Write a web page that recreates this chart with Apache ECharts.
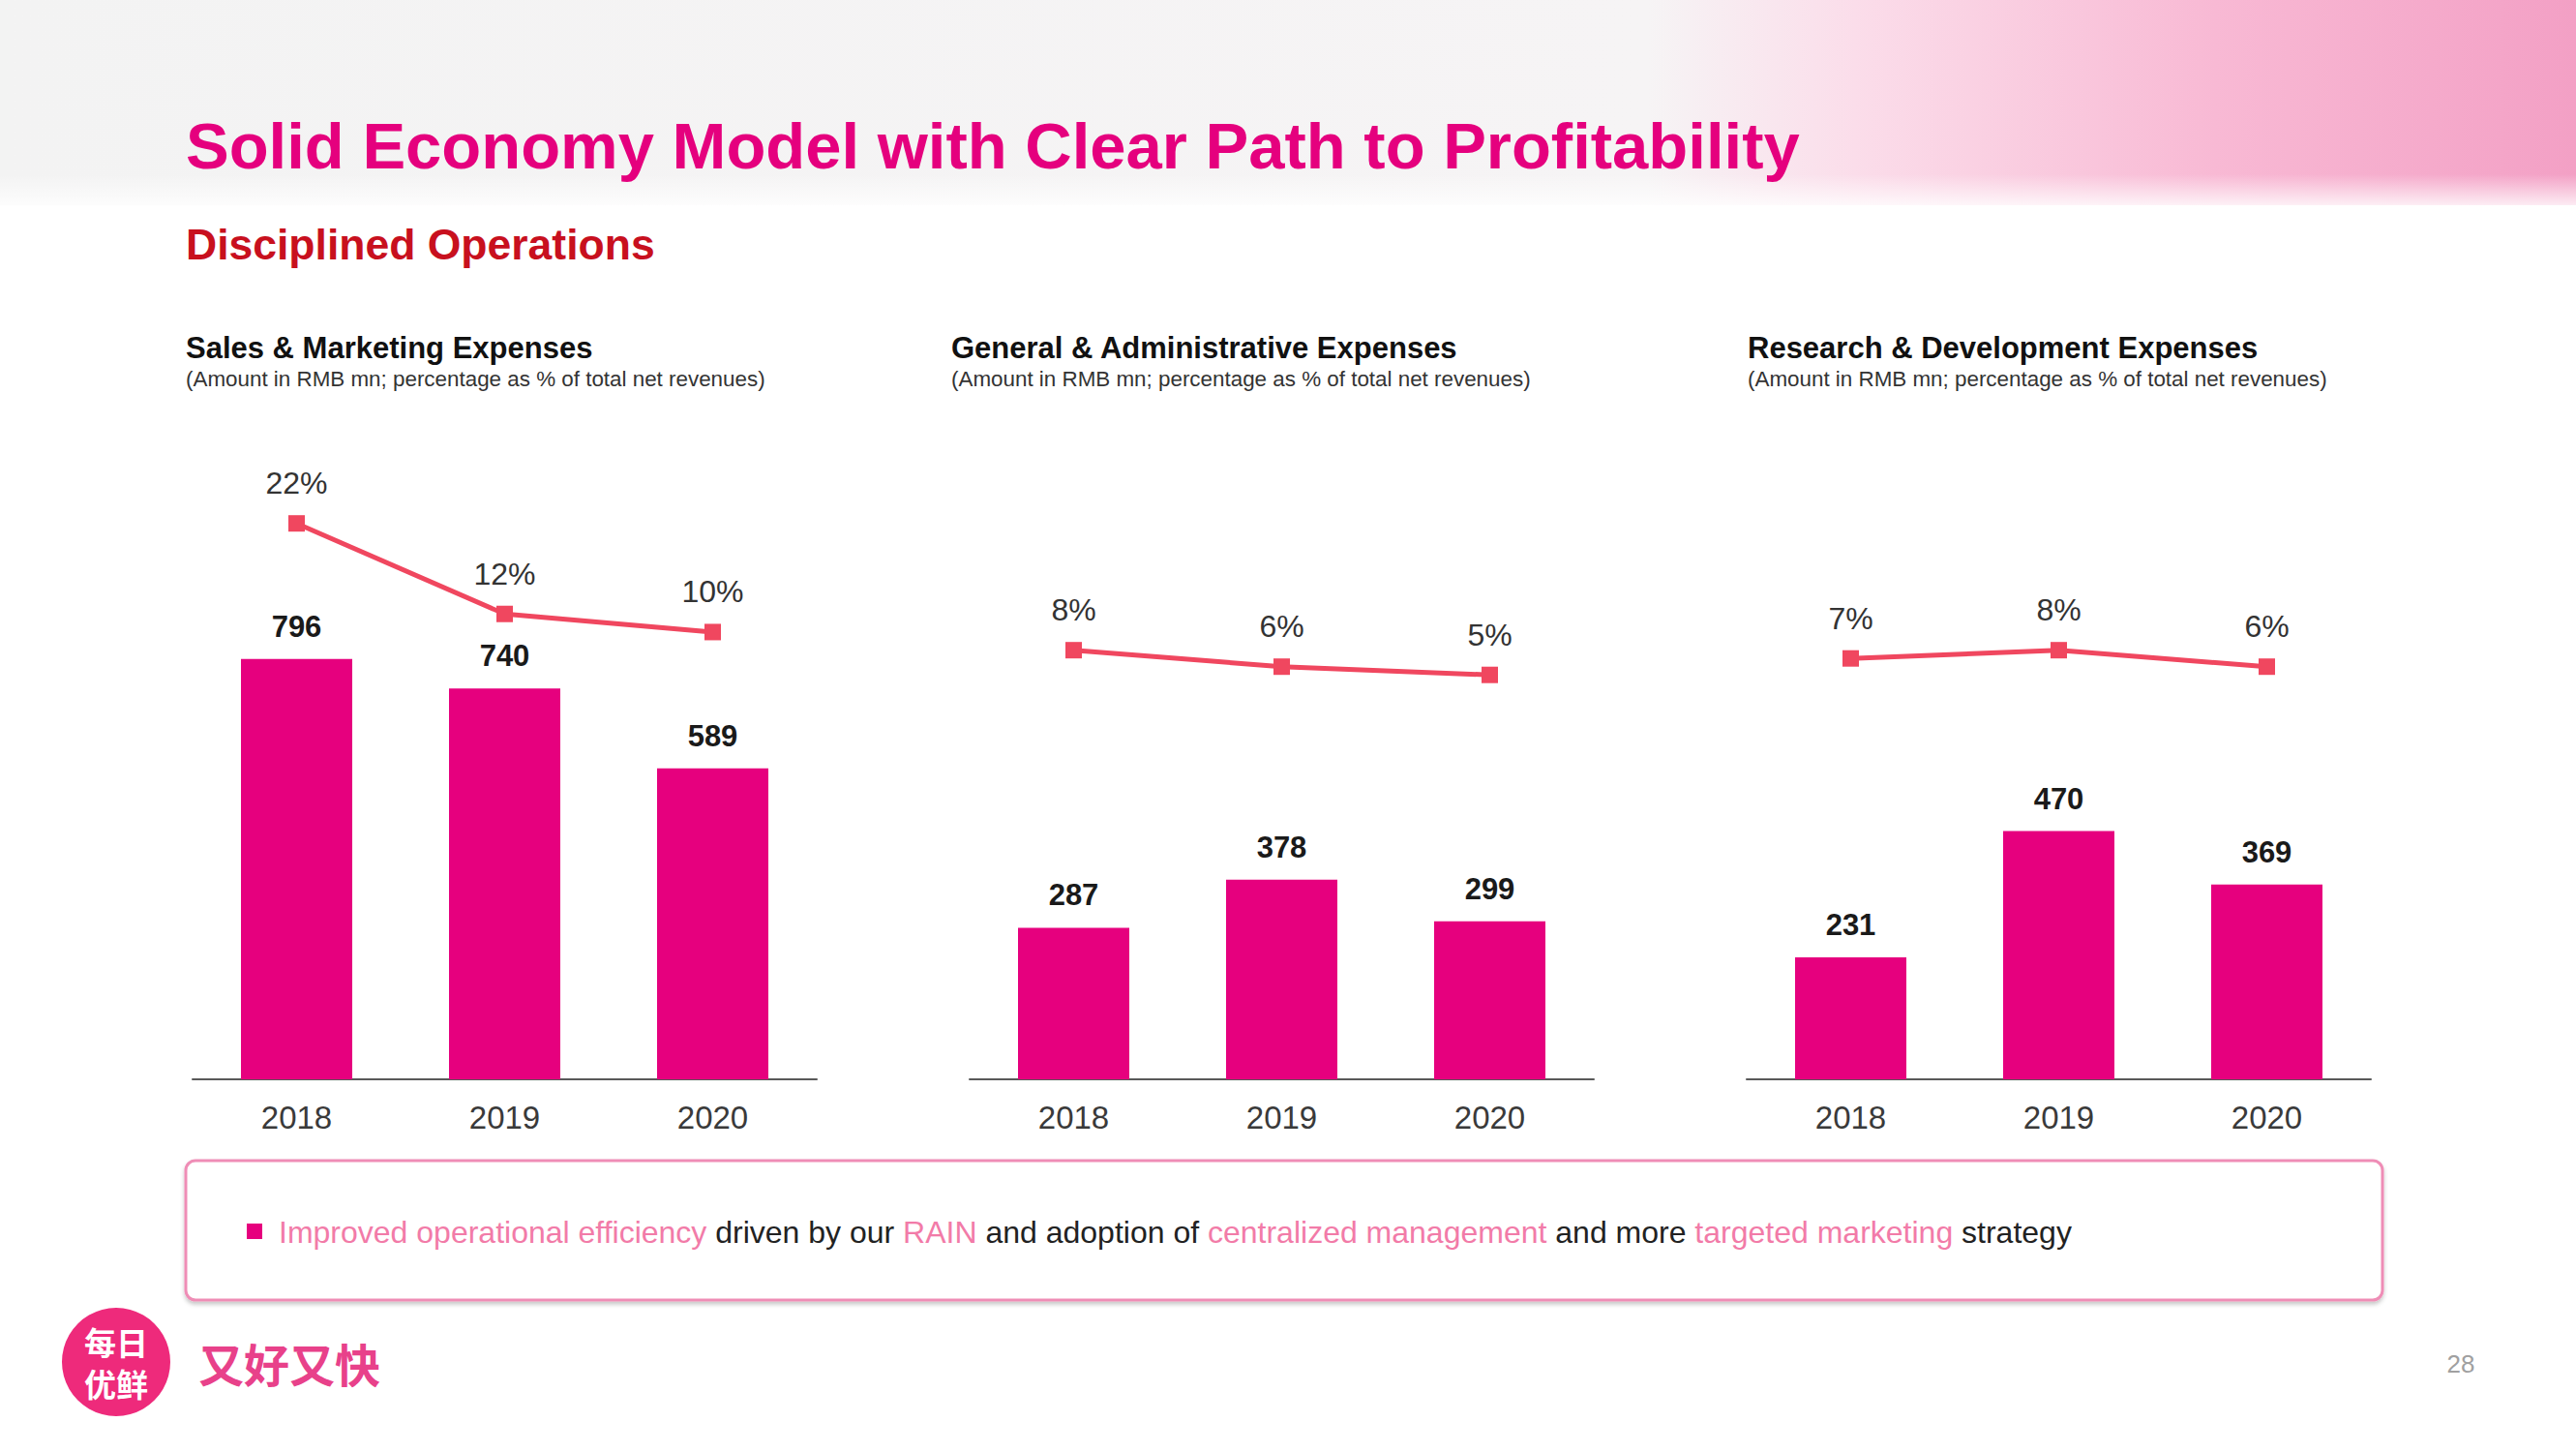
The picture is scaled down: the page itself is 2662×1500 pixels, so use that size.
<!DOCTYPE html>
<html>
<head>
<meta charset="utf-8">
<script src="https://cdn.jsdelivr.net/npm/echarts@6/dist/echarts.min.js"></script>
<style>
html,body{margin:0;padding:0;background:#ffffff;}
#c{width:2662px;height:1500px;}
</style>
</head>
<body>
<div id="c"></div>
<script>
// ---------- DATA ----------
const years = ['2018', '2019', '2020'];
const salesMarketing = [796, 740, 589];
const salesMarketingPct = [22, 12, 10];
const genAdmin = [287, 378, 299];
const genAdminPct = [8, 6, 5];
const research = [231, 470, 369];
const researchPct = [7, 8, 6];
const chartTitles = ['Sales & Marketing Expenses', 'General & Administrative Expenses', 'Research & Development Expenses'];
const chartNote = '(Amount in RMB mn; percentage as % of total net revenues)';
const pageTitle = 'Solid Economy Model with Clear Path to Profitability';
const pageSubtitle = 'Disciplined Operations';
const bottomText = '{p|Improved operational efficiency} driven by our {p|RAIN} and adoption of {p|centralized management} and more {p|targeted marketing} strategy';
const slogan = '又好又快';
const logoTop = '每日';
const logoBottom = '优鲜';
const pageNo = '28';

// ---------- LAYOUT / STYLE ----------
const FONT = 'Liberation Sans, Arial, Helvetica, sans-serif';
const CJK = 'Noto Sans CJK SC, sans-serif';
const BAR_COLOR = '#E6007E';
const LINE_COLOR = '#F0475F';
const gridLefts = [199, 1002, 1805];
const gridWidth = 645;
const gridTop = 493;
const gridHeight = 622;
const barMax = 1140;
const pctRanges = [[-39.4, 27.1], [-44.1, 29.0], [-44.1, 29.0]];
const barsAll = [salesMarketing, genAdmin, research];
const pctAll = [salesMarketingPct, genAdminPct, researchPct];
const titleX = [192, 983, 1806];

const grids = [], xAxes = [], yAxes = [], series = [];
for (let i = 0; i < 3; i++) {
  grids.push({left: gridLefts[i], top: gridTop, width: gridWidth, height: gridHeight, containLabel: false});
  xAxes.push({
    type: 'category', gridIndex: i, data: years,
    axisLine: {show: true, lineStyle: {color: '#595959', width: 2}},
    axisTick: {show: false},
    axisLabel: {fontSize: 33, color: '#3a3a3a', margin: 23, fontFamily: FONT}
  });
  yAxes.push({type: 'value', gridIndex: i, min: 0, max: barMax, show: false, splitLine: {show: false}});
  yAxes.push({type: 'value', gridIndex: i, min: pctRanges[i][0], max: pctRanges[i][1], show: false, splitLine: {show: false}});
  series.push({
    type: 'bar', xAxisIndex: i, yAxisIndex: 2 * i, data: barsAll[i],
    barWidth: 115, itemStyle: {color: BAR_COLOR},
    label: {show: true, position: 'top', distance: 18, fontSize: 31, fontWeight: 'bold', color: '#1a1a1a', fontFamily: FONT},
    z: 2
  });
  series.push({
    type: 'line', xAxisIndex: i, yAxisIndex: 2 * i + 1, data: pctAll[i],
    symbol: 'rect', symbolSize: 17,
    lineStyle: {color: LINE_COLOR, width: 5},
    itemStyle: {color: LINE_COLOR},
    label: {show: true, position: 'top', distance: 17, formatter: '{c}%', fontSize: 32, color: '#333333', fontFamily: FONT},
    z: 3
  });
}

function txt(x, y, text, size, color, weight, family, align) {
  return {
    type: 'text', z: 10,
    style: {
      x: x, y: y, text: text, fill: color,
      fontSize: size, fontWeight: weight || 'normal', fontFamily: family || FONT,
      align: align || 'left', verticalAlign: 'middle',
      textAlign: align || 'left', textVerticalAlign: 'middle'
    }
  };
}

const graphics = [
  // header band
  {type: 'rect', z: 0, shape: {x: 0, y: 0, width: 2662, height: 212},
   style: {fill: {type: 'linear', x: 0, y: 0, x2: 1, y2: 0, colorStops: [
     {offset: 0, color: '#F3F3F3'}, {offset: 0.64, color: '#F6F4F5'},
     {offset: 0.72, color: '#FBDDEA'}, {offset: 0.86, color: '#F8B9D4'}, {offset: 1, color: '#F3A0C5'}]}}},
  {type: 'rect', z: 0, shape: {x: 0, y: 180, width: 2662, height: 40},
   style: {fill: {type: 'linear', x: 0, y: 0, x2: 0, y2: 1, colorStops: [
     {offset: 0, color: 'rgba(255,255,255,0)'}, {offset: 1, color: 'rgba(255,255,255,1)'}]}}},
  txt(192, 150, pageTitle, 67, '#E5007E', 'bold'),
  txt(192, 252, pageSubtitle, 44.5, '#C8101E', 'bold'),
  // bottom box
  {type: 'rect', z: 5, shape: {x: 192, y: 1199, width: 2270, height: 144, r: 10},
   style: {fill: '#ffffff', stroke: '#EF8DB6', lineWidth: 3, shadowBlur: 4, shadowOffsetY: 3, shadowColor: 'rgba(0,0,0,0.22)'}},
  {type: 'rect', z: 6, shape: {x: 255, y: 1264, width: 16, height: 16}, style: {fill: BAR_COLOR}},
  {type: 'text', z: 10, style: {
    x: 288, y: 1273, text: bottomText, fill: '#222222', fontSize: 32, fontFamily: FONT,
    align: 'left', verticalAlign: 'middle', textAlign: 'left', textVerticalAlign: 'middle',
    rich: {p: {fill: '#F27BA8', fontSize: 32, fontFamily: FONT}}
  }},
  // logo
  {type: 'circle', z: 5, shape: {cx: 120, cy: 1407, r: 56}, style: {fill: '#EE2A7B'}},
  txt(120, 1386, logoTop, 33, '#ffffff', 'bold', CJK, 'center'),
  txt(120, 1429, logoBottom, 33, '#ffffff', 'bold', CJK, 'center'),
  txt(205, 1407, slogan, 47, '#E8418A', 'bold', CJK),
  txt(2543, 1409, pageNo, 26, '#A0A0A0', 'normal', FONT, 'center')
];
for (let i = 0; i < 3; i++) {
  graphics.push(txt(titleX[i], 359, chartTitles[i], 31, '#111111', 'bold'));
  graphics.push(txt(titleX[i], 391, chartNote, 22.4, '#333333', 'normal'));
}

const chart = echarts.init(document.getElementById('c'), null, {renderer: 'svg', width: 2662, height: 1500});
chart.setOption({
  animation: false,
  backgroundColor: '#ffffff',
  grid: grids, xAxis: xAxes, yAxis: yAxes, series: series,
  graphic: graphics
});
</script>
</body>
</html>
